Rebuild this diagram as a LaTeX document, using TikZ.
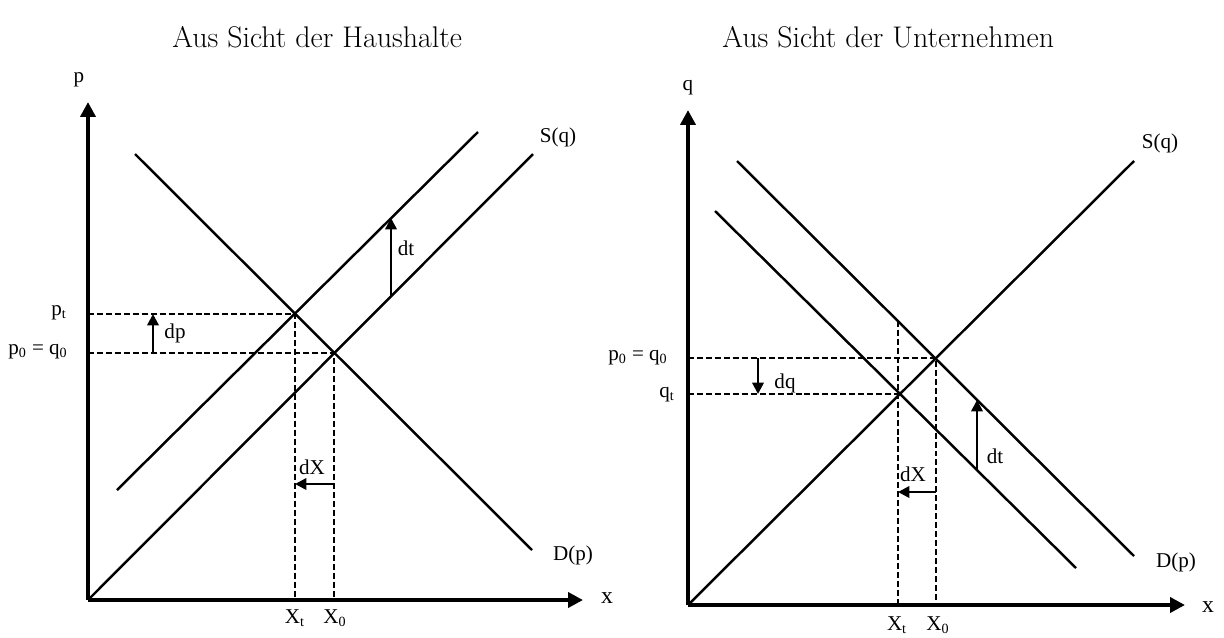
\documentclass[tikz,border=0pt]{standalone}
\usepackage{fontspec}
\newfontfamily\tnr{Liberation Serif}
\usetikzlibrary{arrows.meta}

\tikzset{
  axis/.style={line width=2.3pt,-{Triangle[length=8.5pt,width=8.5pt]}},
  curve/.style={line width=1.4pt},
  guide/.style={line width=1.1pt,dash pattern=on 3.4pt off 1.7pt},
  shiftarr/.style={line width=1.4pt,-{Triangle[length=6.5pt,width=6.5pt]}},
  lbl/.style={font=\tnr\fontsize{12}{14}\selectfont,inner sep=0pt},
  ttl/.style={font=\fontsize{17}{20}\selectfont,inner sep=0pt,anchor=west}
}

\begin{document}
\begin{tikzpicture}[x=0.02cm, y=-0.02cm, line join=round]
\useasboundingbox (0,0) rectangle (1224,637);
% left: households
\node[ttl] (ttlH) at (172,37) {Aus Sicht der Haushalte};
\coordinate (O1) at (88,600);
\coordinate (Y1) at (88,102);
\coordinate (X1) at (583,600);
\coordinate (Da1) at (135,154);
\coordinate (Db1) at (532,550);
\coordinate (Sb1) at (533,154);
\coordinate (Ta1) at (117,490);
\coordinate (Tb1) at (478,132);
\coordinate (Et1) at (295,314);
\coordinate (Ez1) at (334,353);
\draw[axis] (O1) -- (Y1);
\draw[axis] (O1) -- (X1);
\draw[curve] (Da1) -- (Db1);
\draw[curve] (O1) -- (Sb1);
\draw[curve] (Ta1) -- (Tb1);
\draw[guide] (O1 |- Et1) -- (Et1) -- (Et1 |- O1);
\draw[guide] (O1 |- Ez1) -- (Ez1) -- (Ez1 |- O1);
\coordinate (dpA) at (153,353);
\coordinate (dpB) at (153,314);
\coordinate (dtA1) at (391,296);
\coordinate (dtB1) at (391,218);
\coordinate (dxA1) at (334,484);
\coordinate (dxB1) at (295,484);
\draw[shiftarr] (dpA) -- (dpB);
\draw[shiftarr] (dtA1) -- (dtB1);
\draw[shiftarr] (dxA1) -- (dxB1);
\node[lbl] (p) at (79,80) {p};
\node[lbl,anchor=east] (pt) at (67,313) {p\textsubscript{t}};
\node[lbl,anchor=east] (p0q0) at (68,352) {p\textsubscript{0} = q\textsubscript{0}};
\node[lbl] (dp) at (175,333) {dp};
\node[lbl] (dtH) at (406,248) {dt};
\node[lbl] (dXH) at (312,467) {dX};
\node[lbl] (SqH) at (558,137) {S(q)};
\node[lbl] (DpH) at (573,555) {D(p)};
\node[lbl,font=\tnr\fontsize{13.5}{15}\selectfont] (xH) at (607,598) {x};
\node[lbl] (XtH) at (295,618) {X\textsubscript{t}};
\node[lbl] (X0H) at (335,618) {X\textsubscript{0}};
% right: firms
\node[ttl] (ttlU) at (722,37) {Aus Sicht der Unternehmen};
\coordinate (O2) at (688,605);
\coordinate (Y2) at (688,110);
\coordinate (X2) at (1185,605);
\coordinate (Da2) at (737,161);
\coordinate (Db2) at (1134,556);
\coordinate (La2) at (715,211);
\coordinate (Lb2) at (1076,568);
\coordinate (Sb2) at (1134,161);
\coordinate (Ez2) at (936,358);
\coordinate (Et2) at (898,394);
\coordinate (Top2) at (898,321);
\draw[axis] (O2) -- (Y2);
\draw[axis] (O2) -- (X2);
\draw[curve] (Da2) -- (Db2);
\draw[curve] (La2) -- (Lb2);
\draw[curve] (O2) -- (Sb2);
\draw[guide] (O2 |- Ez2) -- (Ez2) -- (Ez2 |- O2);
\draw[guide] (O2 |- Et2) -- (Et2);
\draw[guide] (Top2) -- (Top2 |- O2);
\coordinate (dqA) at (758,358);
\coordinate (dqB) at (758,394);
\coordinate (dtA2) at (977,470);
\coordinate (dtB2) at (977,400);
\coordinate (dxA2) at (936,492);
\coordinate (dxB2) at (898,492);
\draw[shiftarr] (dqA) -- (dqB);
\draw[shiftarr] (dtA2) -- (dtB2);
\draw[shiftarr] (dxA2) -- (dxB2);
\node[lbl] (q) at (688,88) {q};
\node[lbl,anchor=east] (p0q0U) at (668,358) {p\textsubscript{0} = q\textsubscript{0}};
\node[lbl,anchor=east] (qt) at (675,395) {q\textsubscript{t}};
\node[lbl] (dq) at (785,383) {dq};
\node[lbl] (dtU) at (995,456) {dt};
\node[lbl] (dXU) at (913,474) {dX};
\node[lbl] (SqU) at (1160,143) {S(q)};
\node[lbl] (DpU) at (1176,562) {D(p)};
\node[lbl,font=\tnr\fontsize{13.5}{15}\selectfont] (xU) at (1208,607) {x};
\node[lbl] (XtU) at (897,625) {X\textsubscript{t}};
\node[lbl] (X0U) at (938,625) {X\textsubscript{0}};
\end{tikzpicture}
\end{document}
